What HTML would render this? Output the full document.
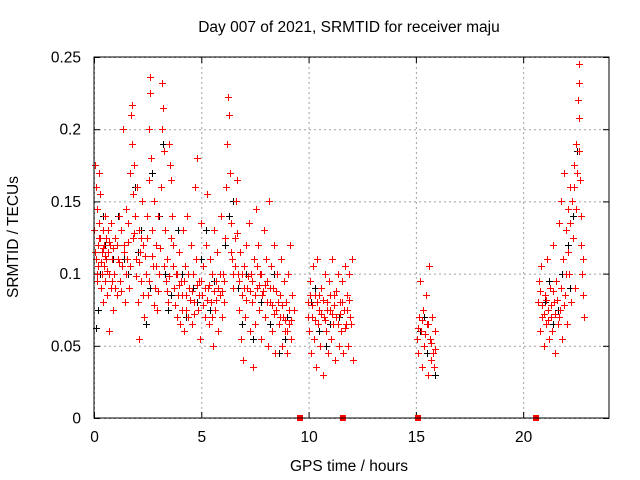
<!DOCTYPE html>
<html><head><meta charset="utf-8"><style>
html,body{margin:0;padding:0;background:#fff;}
svg{display:block;font-family:"Liberation Sans",sans-serif;}
</style></head><body>
<svg id="chart" width="640" height="480" xmlns="http://www.w3.org/2000/svg">
<text x="349" y="32" font-size="15.5" text-anchor="middle">Day 007 of 2021, SRMTID for receiver maju</text>
<text x="349" y="471" font-size="15.5" text-anchor="middle">GPS time / hours</text>
<text x="18" y="237" font-size="15.5" text-anchor="middle" transform="rotate(-90 18 237)">SRMTID / TECUs</text>
<g id="grid"></g><g id="ticks"></g><g id="marks"></g>
<rect x="94" y="57" width="515" height="361" fill="none" stroke="#000" stroke-width="1"/>
</svg>
<script>
const xTicks=[0,5,10,15,20];
const yTicks=[0,0.05,0.1,0.15,0.2,0.25];
const yTickLabels=["0","0.05","0.1","0.15","0.2","0.25"];
const gapHours=[9.6,11.6,15.1,20.6];
const blackPoints=[[0.1,0.062],[0.2,0.075],[0.3,0.1],[0.5,0.12],[0.8,0.09],[1.1,0.14],[1.4,0.11],[1.9,0.16],[2.2,0.13],[2.4,0.065],[2.7,0.17],[2.9,0.12],[3.2,0.19],[3.3,0.1],[3.6,0.085],[3.9,0.13],[4.3,0.07],[4.6,0.09],[5.0,0.11],[5.4,0.075],[5.8,0.06],[6.1,0.12],[6.5,0.15],[6.7,0.09],[7.1,0.1],[7.4,0.055],[7.8,0.08],[8.2,0.065],[8.6,0.045],[9.0,0.07],[10.1,0.08],[10.5,0.06],[11.0,0.065],[11.4,0.07],[15.2,0.06],[15.5,0.045],[15.9,0.03],[21.0,0.08],[21.4,0.065],[21.8,0.1],[22.2,0.09],[22.6,0.245],[22.5,0.185],[22.1,0.12],
[0.4,0.14],[0.9,0.11],[1.6,0.1],[2.05,0.115],[2.6,0.09],[3.05,0.14],[3.45,0.075],[4.1,0.1],[4.8,0.08],[5.2,0.13],[5.6,0.095],[6.3,0.14],[6.9,0.065],[7.6,0.09],[8.4,0.1],[8.9,0.055],[10.3,0.09],[10.8,0.05],[11.2,0.085],[15.4,0.07],[15.7,0.04],[21.2,0.095],[21.6,0.075],[22.3,0.14]];
const redPoints=[
[0.02,0.13],[0.05,0.175],[0.08,0.16],[0.1,0.11],[0.12,0.095],[0.15,0.145],[0.18,0.12],[0.2,0.105],[0.22,0.135],[0.25,0.17],[0.28,0.155],[0.3,0.125],[0.33,0.09],[0.35,0.115],[0.38,0.1],[0.4,0.13],[0.43,0.08],[0.45,0.12],[0.48,0.105],[0.5,0.14],[0.53,0.095],[0.55,0.125],[0.58,0.11],[0.6,0.085],[0.63,0.13],[0.65,0.115],[0.7,0.1],[0.72,0.06],[0.75,0.12],[0.78,0.09],[0.8,0.135],[0.85,0.11],[0.9,0.075],[0.95,0.1],[1.0,0.125],[1.05,0.085],[1.1,0.11],[1.15,0.14],[1.2,0.095],[1.25,0.13],[1.3,0.105],[1.35,0.2],[1.4,0.12],[1.45,0.08],[1.5,0.145],[1.55,0.11],[1.6,0.135],[1.65,0.09],[1.7,0.17],[1.72,0.21],[1.75,0.217],[1.78,0.19],[1.8,0.155],[1.83,0.125],[1.85,0.175],[1.9,0.14],[1.95,0.11],[2.0,0.16],[2.05,0.08],[2.1,0.13],[2.12,0.055],[2.15,0.115],[2.2,0.095],[2.25,0.15],[2.3,0.12],[2.35,0.07],[2.4,0.1],[2.45,0.14],[2.5,0.085],[2.55,0.165],[2.58,0.2],[2.6,0.236],[2.63,0.225],[2.65,0.18],[2.7,0.13],[2.75,0.105],[2.8,0.15],[2.85,0.09],[2.9,0.12],[2.95,0.075],[3.0,0.14],[3.05,0.1],[3.1,0.16],[3.15,0.2],[3.18,0.232],[3.2,0.215],[3.25,0.185],[3.3,0.13],[3.35,0.095],[3.4,0.11],[3.45,0.08],[3.5,0.19],[3.55,0.175],[3.6,0.165],[3.65,0.14],[3.7,0.12],[3.75,0.09],[3.8,0.1],[3.85,0.07],[3.9,0.085],[3.95,0.115],[4.0,0.065],[4.05,0.095],[4.1,0.075],[4.15,0.13],[4.2,0.06],[4.25,0.105],[4.3,0.085],[4.35,0.14],[4.4,0.07],[4.45,0.09],[4.5,0.12],[4.55,0.065],[4.6,0.1],[4.65,0.08],[4.7,0.16],[4.75,0.11],[4.8,0.18],[4.85,0.075],[4.9,0.095],[4.95,0.055],[5.0,0.135],[5.05,0.085],[5.1,0.105],[5.15,0.07],[5.2,0.12],[5.25,0.155],[5.3,0.09],[5.35,0.065],[5.4,0.11],[5.45,0.08],[5.5,0.1],[5.55,0.05],[5.6,0.13],[5.65,0.075],[5.7,0.095],[5.75,0.115],[5.8,0.06],[5.85,0.085],[5.9,0.14],[5.95,0.07],[6.0,0.1],[6.05,0.08],[6.1,0.125],[6.15,0.16],[6.2,0.19],[6.25,0.222],[6.3,0.21],[6.35,0.17],[6.4,0.135],[6.45,0.11],[6.5,0.09],[6.55,0.125],[6.6,0.15],[6.65,0.165],[6.7,0.1],[6.75,0.075],[6.8,0.115],[6.85,0.055],[6.9,0.085],[6.95,0.04],[7.0,0.105],[7.05,0.07],[7.1,0.12],[7.15,0.09],[7.2,0.135],[7.25,0.06],[7.3,0.1],[7.35,0.08],[7.4,0.035],[7.45,0.11],[7.5,0.065],[7.55,0.145],[7.6,0.09],[7.65,0.12],[7.7,0.075],[7.75,0.1],[7.8,0.055],[7.85,0.085],[7.9,0.13],[7.95,0.07],[8.0,0.11],[8.05,0.095],[8.1,0.05],[8.15,0.15],[8.2,0.08],[8.25,0.105],[8.3,0.06],[8.35,0.09],[8.4,0.12],[8.45,0.045],[8.5,0.075],[8.55,0.1],[8.6,0.065],[8.65,0.085],[8.7,0.11],[8.75,0.05],[8.8,0.07],[8.85,0.095],[8.9,0.06],[8.95,0.08],[9.0,0.045],[9.05,0.1],[9.1,0.065],[9.15,0.12],[9.2,0.055],[9.25,0.085],[9.3,0.075],
[9.95,0.08],[10.0,0.06],[10.05,0.095],[10.1,0.045],[10.15,0.07],[10.2,0.105],[10.25,0.055],[10.3,0.085],[10.35,0.035],[10.4,0.11],[10.45,0.065],[10.5,0.075],[10.55,0.05],[10.6,0.09],[10.65,0.03],[10.7,0.07],[10.75,0.1],[10.8,0.06],[10.85,0.08],[10.9,0.045],[10.95,0.095],[11.0,0.075],[11.05,0.055],[11.1,0.11],[11.15,0.065],[11.2,0.085],[11.25,0.04],[11.3,0.07],[11.35,0.1],[11.4,0.05],[11.45,0.08],[11.5,0.06],[11.55,0.095],[11.6,0.045],[11.65,0.075],[11.7,0.105],[11.75,0.065],[11.8,0.085],[11.85,0.05],[11.9,0.1],[11.95,0.07],[12.0,0.11],[12.05,0.04],
[15.05,0.055],[15.1,0.045],[15.15,0.07],[15.2,0.095],[15.25,0.06],[15.3,0.035],[15.35,0.075],[15.4,0.05],[15.45,0.085],[15.5,0.065],[15.55,0.03],[15.6,0.105],[15.65,0.055],[15.7,0.04],[15.75,0.07],[15.8,0.045],[15.85,0.035],[15.9,0.06],
[20.7,0.08],[20.75,0.095],[20.8,0.06],[20.85,0.105],[20.9,0.07],[20.95,0.05],[21.0,0.085],[21.05,0.065],[21.1,0.11],[21.15,0.075],[21.2,0.055],[21.25,0.09],[21.3,0.07],[21.35,0.06],[21.4,0.12],[21.45,0.08],[21.5,0.045],[21.55,0.095],[21.6,0.065],[21.65,0.135],[21.7,0.075],[21.75,0.15],[21.8,0.055],[21.85,0.11],[21.9,0.17],[21.95,0.085],[22.0,0.13],[22.05,0.065],[22.1,0.145],[22.15,0.1],[22.2,0.16],[22.25,0.08],[22.3,0.125],[22.35,0.175],[22.4,0.09],[22.45,0.19],[22.5,0.17],[22.55,0.22],[22.58,0.208],[22.6,0.232],[22.62,0.245],[22.65,0.165],[22.7,0.14],[22.75,0.1],[22.8,0.085],[22.85,0.07]
];
const redPointsExtra=[
[0.06,0.115],[0.14,0.1],[0.24,0.125],[0.32,0.108],[0.42,0.118],[0.52,0.112],[0.62,0.102],[0.68,0.122],[0.82,0.095],[0.88,0.118],[0.98,0.09],[1.08,0.12],[1.18,0.108],[1.28,0.088],[1.38,0.115],[1.48,0.1],[1.58,0.122],[1.68,0.105],[1.88,0.128],[1.98,0.098],[2.08,0.108],[2.18,0.125],[2.28,0.085],[2.38,0.112],[2.48,0.125],[2.58,0.095],[2.68,0.112],[2.78,0.078],[2.88,0.105],[2.98,0.088],[3.08,0.118],[3.28,0.105],[3.38,0.088],[3.48,0.098],[3.58,0.125],[3.68,0.105],[3.78,0.078],[3.88,0.1],[3.98,0.092],[4.08,0.085],[4.18,0.095],[4.28,0.075],[4.38,0.1],[4.48,0.082],[4.58,0.088],[4.68,0.072],[4.78,0.092],[4.88,0.085],[4.98,0.095],[5.08,0.078],[5.18,0.09],[5.28,0.082],[5.38,0.092],[5.48,0.07],[5.58,0.088],[5.68,0.082],[5.78,0.09],[5.88,0.1],[5.98,0.088],[6.08,0.095],[6.38,0.115],[6.48,0.1],[6.58,0.105],[6.68,0.128],[6.78,0.095],[6.88,0.1],[6.98,0.09],[7.08,0.082],[7.18,0.098],[7.28,0.088],[7.38,0.095],[7.48,0.085],[7.58,0.105],[7.68,0.092],[7.78,0.1],[7.88,0.088],[7.98,0.092],[8.08,0.08],[8.18,0.09],[8.28,0.078],[8.38,0.072],[8.48,0.088],[8.58,0.08],[8.68,0.07],[8.78,0.078],[8.88,0.068],[8.98,0.06],[9.08,0.075],[9.18,0.068],
[9.98,0.07],[10.08,0.085],[10.18,0.078],[10.28,0.068],[10.38,0.08],[10.48,0.085],[10.58,0.072],[10.68,0.082],[10.78,0.068],[10.88,0.075],[10.98,0.085],[11.08,0.072],[11.18,0.078],[11.28,0.088],[11.38,0.065],[11.48,0.072],[11.58,0.08],[11.68,0.062],[11.78,0.075],[11.88,0.082],[11.98,0.065],
[15.12,0.062],[15.28,0.068],[15.42,0.058],[15.58,0.065],[15.72,0.052],[15.88,0.048],
[20.78,0.088],[20.88,0.078],[20.98,0.072],[21.08,0.082],[21.18,0.068],[21.28,0.078],[21.38,0.088],[21.48,0.072],[21.58,0.082],[21.68,0.07],[21.78,0.09],[21.88,0.078],[21.98,0.1],[22.08,0.115],[22.18,0.135],[22.28,0.15],[22.38,0.16],[22.48,0.145],[22.58,0.185],[22.68,0.12],[22.78,0.11]
];
const NS="http://www.w3.org/2000/svg";
const L=94,R=609,T=57,B=418,XMAX=24,YMAX=0.25;
function xs(h){return L+(R-L)*h/XMAX;}
function ys(v){return B-(B-T)*v/YMAX;}
function mk(tag,attrs,parent){const e=document.createElementNS(NS,tag);for(const k in attrs)e.setAttribute(k,attrs[k]);parent.appendChild(e);return e;}
const grid=document.getElementById('grid'),ticks=document.getElementById('ticks'),marks=document.getElementById('marks');
xTicks.forEach(t=>{const x=xs(t)+0.5;
 const g=mk('line',{x1:x,x2:x,y1:T,y2:B,stroke:'#a0a0a0','stroke-dasharray':'2,3'},grid);
 
 
 mk('line',{x1:x,x2:x,y1:B,y2:B-6,stroke:'#000'},ticks);
 mk('line',{x1:x,x2:x,y1:T,y2:T+6,stroke:'#000'},ticks);
 const tx=mk('text',{x:x,y:B+24,'font-size':15.5,'text-anchor':'middle'},ticks);tx.textContent=t;
 
 
});
yTicks.forEach((t,i)=>{const y=ys(t)+0.5;
 const g=mk('line',{x1:L,x2:R,y1:y,y2:y,stroke:'#a0a0a0','stroke-dasharray':'2,3'},grid);
 
 
 mk('line',{x1:L,x2:L+6,y1:y,y2:y,stroke:'#000'},ticks);
 mk('line',{x1:R,x2:R-6,y1:y,y2:y,stroke:'#000'},ticks);
 const tx=mk('text',{x:L-13,y:y+5,'font-size':15.5,'text-anchor':'end'},ticks);tx.textContent=yTickLabels[i];
 
 
});
function plus(h,v,col,name){const x=Math.round(xs(h))+0.5,y=Math.round(ys(v))+0.5;
 const p=mk('path',{d:`M${x-3.5} ${y}H${x+3.5}M${x} ${y-3.5}V${y+3.5}`,stroke:col,'stroke-width':1,fill:'none'},marks);
 
 
}
blackPoints.forEach(p=>plus(p[0],p[1],'#000','black-point'));
redPoints.forEach(p=>plus(p[0],p[1],'#f00','red-point'));
redPointsExtra.forEach(p=>plus(p[0],p[1],'#f00','red-point'));
gapHours.forEach(h=>{const r=mk('rect',{x:xs(h)-3,y:B-3,width:6,height:6,fill:'#f00'},marks);
 
 
});
</script>
</body></html>
